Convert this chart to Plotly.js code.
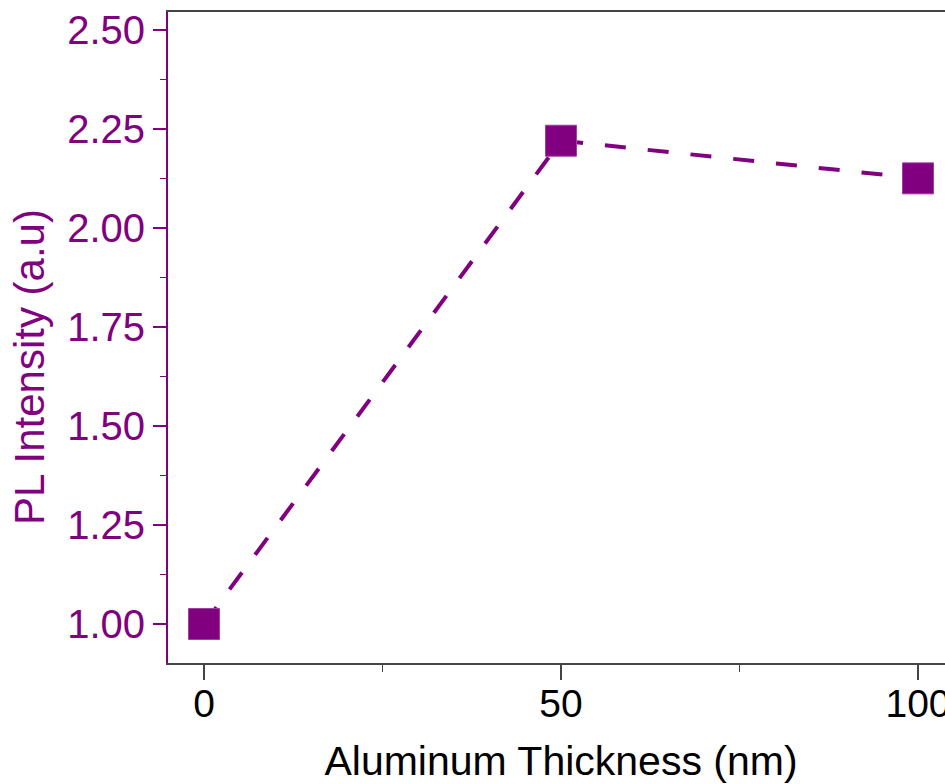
<!DOCTYPE html>
<html>
<head>
<meta charset="utf-8">
<script src="https://cdn.plot.ly/plotly-3.0.1.min.js"></script>
<style>
  html, body { margin: 0; padding: 0; overflow: hidden; background: #fff; }
  #chart { width: 1000px; height: 784px; }
</style>
</head>
<body>
<div id="chart"></div>
<script>
// Aluminum layer thickness (nm) and measured PL intensity (a.u.)
const thickness = [0, 50, 100];
const plIntensity = [1.00, 2.22, 2.125];
const yTickValues = [1.00, 1.25, 1.50, 1.75, 2.00, 2.25, 2.50];
const xTickValues = [0, 50, 100];
const xTitle = 'Aluminum Thickness (nm)';
const yTitle = 'PL Intensity (a.u)';

const purple = '#800080';
const axisGray = '#444444';

const trace = {
  x: thickness,
  y: plIntensity,
  type: 'scatter',
  mode: 'lines+markers',
  line: { color: purple, width: 4, dash: '21px,22px' },
  marker: { symbol: 'square', size: 31, color: purple,
            line: { color: '#a040a0', width: 1 } },
  hoverinfo: 'x+y'
};

const layout = {
  width: 1000,
  height: 784,
  margin: { l: 168, r: 46, t: 12, b: 121 },
  paper_bgcolor: '#ffffff',
  plot_bgcolor: '#ffffff',
  showlegend: false,
  font: { family: 'Liberation Sans, Arial, sans-serif' },
  xaxis: {
    range: [-5.04, 105.04],
    tickmode: 'array',
    tickvals: xTickValues,
    ticktext: xTickValues.map(String),
    showgrid: false,
    zeroline: false,
    showline: true,
    linecolor: axisGray,
    linewidth: 2,
    mirror: true,
    ticks: 'outside',
    ticklen: 15,
    tickwidth: 2,
    tickcolor: axisGray,
    ticklabelstandoff: -10,
    tickfont: { size: 39, color: '#000000' },
    minor: { dtick: 25, tick0: 0, ticks: 'outside', ticklen: 7, tickwidth: 1.5, tickcolor: axisGray, showgrid: false },
    title: { text: xTitle, font: { size: 41, color: '#000000' }, standoff: 24 }
  },
  yaxis: {
    range: [0.9015, 2.545],
    tickmode: 'array',
    tickvals: yTickValues,
    ticktext: yTickValues.map(v => v.toFixed(2)),
    showgrid: false,
    zeroline: false,
    showline: true,
    linecolor: purple,
    linewidth: 2,
    ticks: 'outside',
    ticklen: 13,
    tickwidth: 2,
    tickcolor: purple,
    tickfont: { size: 40, color: purple },
    minor: { dtick: 0.125, tick0: 1.0, ticks: 'outside', ticklen: 6, tickwidth: 1.5, tickcolor: purple, showgrid: false }
  },
  // y-axis title sits a little below the axis midpoint
  annotations: [{
    text: yTitle,
    xref: 'paper', yref: 'paper',
    x: -0.1756, y: 0.4547,
    xanchor: 'center', yanchor: 'middle',
    textangle: -90,
    showarrow: false,
    font: { size: 42, color: purple }
  }]
};

Plotly.newPlot('chart', [trace], layout, { displayModeBar: false, staticPlot: true });
</script>
</body>
</html>
